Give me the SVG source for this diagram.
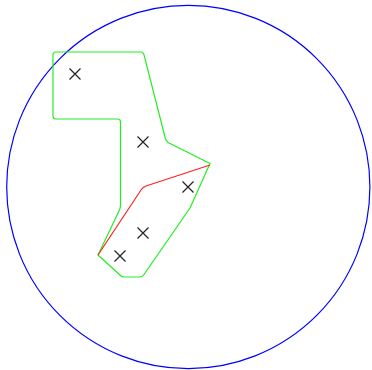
<svg xmlns="http://www.w3.org/2000/svg" width="372" height="370" viewBox="0 0 372 370">
<style>
.mk{stroke:#222;stroke-width:1.2;fill:none}
</style>
<rect width="372" height="370" fill="#fff"/>
<g id="circle"><circle cx="188.3" cy="187" r="181.6" fill="none" stroke="#0000ff" stroke-width="1.2"/></g>
<g id="region"><path d="M53,55 Q53,52 56,52 L141,52 Q143.5,52 144,55 L165.5,139 Q166.5,141.5 169,143 L210,163.5 L190,208 L144,274.5 Q142.5,277 139.5,277 L124,277 Q122,277 120.5,275.5 L98,255 L119,211 Q120.5,208 120.5,205 L120.5,122 Q120.5,119 117.5,119 L56,119 Q53,119 53,116 Z" fill="none" stroke="#22ee22" stroke-width="1.2"/></g>
<g id="path"><path d="M98,255 L141,190 Q143,187 146,186 L210,165" fill="none" stroke="#ff2222" stroke-width="1.2"/></g>
<g id="markers">
<path class="mk" d="M69.5,68.5 l11,11 M80.5,68.5 l-11,11"/>
<path class="mk" d="M137.5,136.5 l11,11 M148.5,136.5 l-11,11"/>
<path class="mk" d="M182.5,181.5 l11,11 M193.5,181.5 l-11,11"/>
<path class="mk" d="M137.5,227.5 l11,11 M148.5,227.5 l-11,11"/>
<path class="mk" d="M114.5,250.5 l11,11 M125.5,250.5 l-11,11"/>
</g>
</svg>
